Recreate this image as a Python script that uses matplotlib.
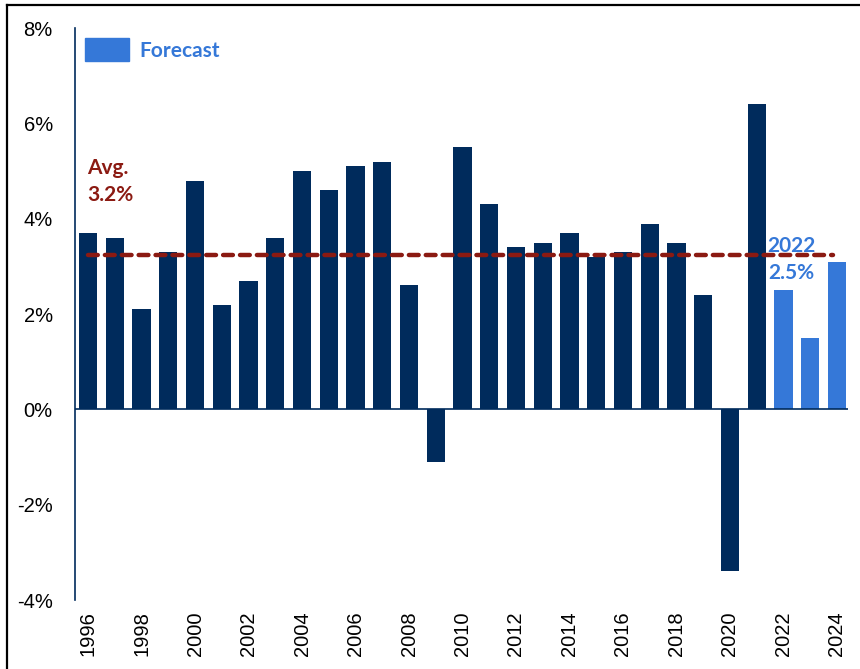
import matplotlib
matplotlib.use("Agg")
import matplotlib.pyplot as plt
from matplotlib.patches import Patch
from matplotlib.lines import Line2D

# growth by year, last three are forecasts
years = list(range(1996, 2025))
growth = [3.7, 3.6, 2.1, 3.3, 4.8, 2.2, 2.7, 3.6, 5.0, 4.6, 5.1, 5.2, 2.6, -1.1,
          5.5, 4.3, 3.4, 3.5, 3.7, 3.2, 3.3, 3.9, 3.5, 2.4, -3.4, 6.4,
          2.5, 1.5, 3.1]
forecast_from = 2022
avg_growth = 3.25
yticks = [-4, -2, 0, 2, 4, 6, 8]

NAVY = "#002b5c"
BLUE = "#3578d8"
RED = "#8b1a12"

fig = plt.figure(figsize=(8.6, 6.69), dpi=100)
ax = fig.add_axes([0.0872, 0.103, 0.899, 0.855])

colors = [BLUE if y >= forecast_from else NAVY for y in years]
ax.bar(years, growth, width=0.68, color=colors, zorder=2)

ax.axhline(0, color=NAVY, lw=1.2, zorder=3)
ax.plot([years[0], years[-1] - 0.15], [avg_growth, avg_growth], color=RED, lw=3.2,
        dashes=(2.2, 1.6), dash_capstyle="round", zorder=4)

ax.set_xlim(years[0] - 0.49, years[-1] + 0.42)
ax.set_ylim(-4, 8)
ax.set_yticks(yticks)
ax.set_yticklabels([f"{v}%" for v in yticks], fontsize=14.5, family="Liberation Sans")
ax.set_xticks(years[::2])
ax.set_xticklabels([str(y) for y in years[::2]], rotation=90, fontsize=14.5,
                   family="Liberation Sans")
ax.tick_params(length=0, pad=8)
ax.tick_params(axis="y", pad=16)

for s in ["top", "right", "bottom"]:
    ax.spines[s].set_visible(False)
ax.spines["left"].set_color(NAVY)
ax.spines["left"].set_linewidth(1.2)

ax.text(years[0] - 0.05, 4.78, "Avg.\n3.2%", color=RED, fontsize=15, fontweight="bold",
        family="Lato", va="center", ha="left", linespacing=1.45)
ax.text(2022.3, 3.15, "2022\n2.5%", color=BLUE, fontsize=15, fontweight="bold",
        family="Lato", va="center", ha="center", linespacing=1.45, zorder=5)

leg = ax.legend(handles=[Patch(color=BLUE, label="Forecast")], loc="upper left",
                bbox_to_anchor=(-0.011, 1.015), frameon=False, handlelength=2.1,
                handleheight=1.3, handletextpad=0.5,
                prop={"family": "Lato", "weight": "bold", "size": 15})
for t in leg.get_texts():
    t.set_color(BLUE)

# thin frame on top and left of the image
fig.add_artist(Line2D([0.008, 1.0], [0.9925, 0.9925], color="black", lw=1.6,
                      transform=fig.transFigure))
fig.add_artist(Line2D([0.008, 0.008], [0.0, 0.9925], color="black", lw=1.6,
                      transform=fig.transFigure))

fig.savefig("out.png", dpi=100)
